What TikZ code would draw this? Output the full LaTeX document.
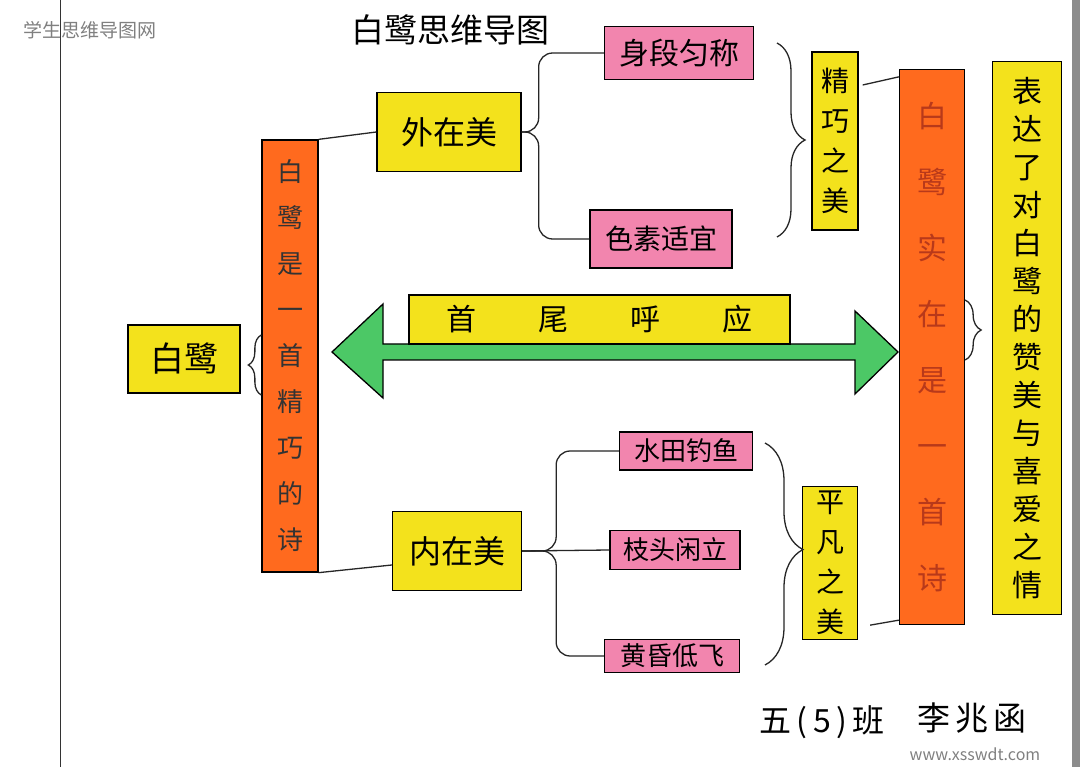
\documentclass[tikz,border=0pt]{standalone}
\usepackage{fontspec}
\setmainfont{Noto Sans CJK SC}
\usetikzlibrary{decorations.pathreplacing}
\definecolor{myyellow}{HTML}{F3E21C}
\definecolor{mypink}{HTML}{F285AE}
\definecolor{myorange}{HTML}{FF6A1E}
\definecolor{mygreen}{HTML}{4CC866}
\definecolor{redtext}{HTML}{B8391A}
\definecolor{wmgray}{HTML}{808080}
\begin{document}
\begin{tikzpicture}[x=1pt,y=-1pt,
  conn/.style={draw=black!85, line width=1.3pt},
  ybox/.style={draw=black, line width=1.3pt, fill=myyellow, inner sep=0pt, align=center},
  pbox/.style={draw=black, line width=1.3pt, fill=mypink, inner sep=0pt, align=center},
  obar/.style={draw=black, line width=1.3pt, fill=myorange, inner sep=0pt, align=center},
  bracestyle/.style={draw=black!85, line width=1.3pt, decorate}
]
\useasboundingbox (0,0) rectangle (1080,767);
\fill[white] (0,0) rectangle (1080,767);
\fill[black!45] (1072,0) rectangle (1080,767);
\draw[line width=1pt, black!80] (60,0) -- (60,767);

% watermark and title
\node[text=wmgray, font=\fontsize{19}{19}\selectfont] (wm) at (90,30) {学生思维导图网};
\node[font=\fontsize{33}{33}\selectfont] (title) at (450,30) {白鹭思维导图};

% green double arrow
\filldraw[fill=mygreen, draw=black, line width=1.3pt]
  (332,352) -- (383,304) -- (383,344) -- (855,344) -- (855,311) -- (898,352)
  -- (855,394) -- (855,360) -- (383,360) -- (383,398) -- cycle;

% nodes
\node[ybox, minimum width=112pt, minimum height=68pt, font=\fontsize{34}{34}\selectfont] (bailu) at (184,359) {白鹭};
\node[obar, minimum width=56pt, minimum height=432pt, text=black!80, font=\fontsize{26}{46}\selectfont] (leftbar) at (290,356)
  {白\\鹭\\是\\一\\首\\精\\巧\\的\\诗};
\node[ybox, minimum width=144pt, minimum height=79pt, font=\fontsize{32}{32}\selectfont] (waizai) at (449,132) {外在美};
\node[pbox, minimum width=149pt, minimum height=53pt, font=\fontsize{30}{30}\selectfont] (shenduan) at (679,53) {身段匀称};
\node[pbox, minimum width=142pt, minimum height=58pt, font=\fontsize{28}{28}\selectfont] (sesu) at (661,239) {色素适宜};
\node[ybox, minimum width=46pt, minimum height=178pt, font=\fontsize{28}{40}\selectfont] (jingqiao) at (835,141) {精\\巧\\之\\美};
\node[obar, minimum width=65pt, minimum height=555pt, text=redtext, font=\fontsize{30}{66}\selectfont] (rightbar) at (932,347)
  {白\\鹭\\实\\在\\是\\一\\首\\诗};
\node[ybox, minimum width=69pt, minimum height=553pt, font=\fontsize{30}{38}\selectfont] (rightyellow) at (1027,338)
  {表\\达\\了\\对\\白\\鹭\\的\\赞\\美\\与\\喜\\爱\\之\\情};
\node[ybox, minimum width=381pt, minimum height=49pt, font=\fontsize{30}{30}\selectfont] (shouwei) at (599.5,319.5)
  {首\hspace{62pt}尾\hspace{62pt}呼\hspace{62pt}应};
\node[ybox, minimum width=129pt, minimum height=79pt, font=\fontsize{32}{32}\selectfont] (neizai) at (457,551) {内在美};
\node[pbox, minimum width=133pt, minimum height=38pt, font=\fontsize{26}{26}\selectfont] (shuitian) at (686,451) {水田钓鱼};
\node[pbox, minimum width=130pt, minimum height=39pt, font=\fontsize{26}{26}\selectfont] (zhitou) at (675,550) {枝头闲立};
\node[pbox, minimum width=135pt, minimum height=33pt, font=\fontsize{26}{26}\selectfont] (huanghun) at (672,656) {黄昏低飞};
\node[ybox, minimum width=55pt, minimum height=153pt, font=\fontsize{28}{40}\selectfont] (pingfan) at (830,563) {平\\凡\\之\\美};

% signature
\node[font=\fontsize{32}{32}\selectfont] (cls) at (822,722) {五\,(\,5\,)\,班};
\node[font=\fontsize{33}{33}\selectfont] (name) at (972,718) {李\,兆\,函};
\node[text=wmgray, font=\fontsize{16}{16}\selectfont] (wm2) at (975,754) {www.xsswdt.com};

% connectors
\draw[conn] (leftbar.north east) -- (waizai.west);
\draw[conn] (leftbar.south east) -- ([yshift=-14pt]neizai.west);
\draw[conn, rounded corners=14pt] (waizai.east) -- ++(17,0) |- (shenduan.west);
\draw[conn, rounded corners=14pt] (waizai.east) -- ++(17,0) |- (sesu.west);
\draw[conn, rounded corners=14pt] (neizai.east) -- ++(34,0) |- (shuitian.west);
\draw[conn] (neizai.east) -- (zhitou.west);
\draw[conn, rounded corners=14pt] (neizai.east) -- ++(34,0) |- (huanghun.west);
\draw[conn] ([shift={(4pt,56pt)}]jingqiao.east) -- ([yshift=-8pt]rightbar.north west);
\draw[conn] ([shift={(12pt,15pt)}]pingfan.south east) -- ([yshift=5pt]rightbar.south west);

% braces
\coordinate (b1t) at (777,43);
\coordinate (b1b) at (777,237);
\draw[bracestyle, decoration={brace, amplitude=28pt, aspect=0.5}] (b1t) -- (b1b);
\coordinate (b2t) at (765,443);
\coordinate (b2b) at (765,665);
\draw[bracestyle, decoration={brace, amplitude=38pt, aspect=0.48}] (b2t) -- (b2b);
\draw[bracestyle, decoration={brace, amplitude=13pt, aspect=0.5}] ([yshift=-39pt]leftbar.west) -- ([yshift=21pt]leftbar.west);
\draw[bracestyle, decoration={brace, amplitude=16pt, aspect=0.5}] ([yshift=47pt]rightbar.east) -- ([yshift=-13pt]rightbar.east);
\end{tikzpicture}
\end{document}
